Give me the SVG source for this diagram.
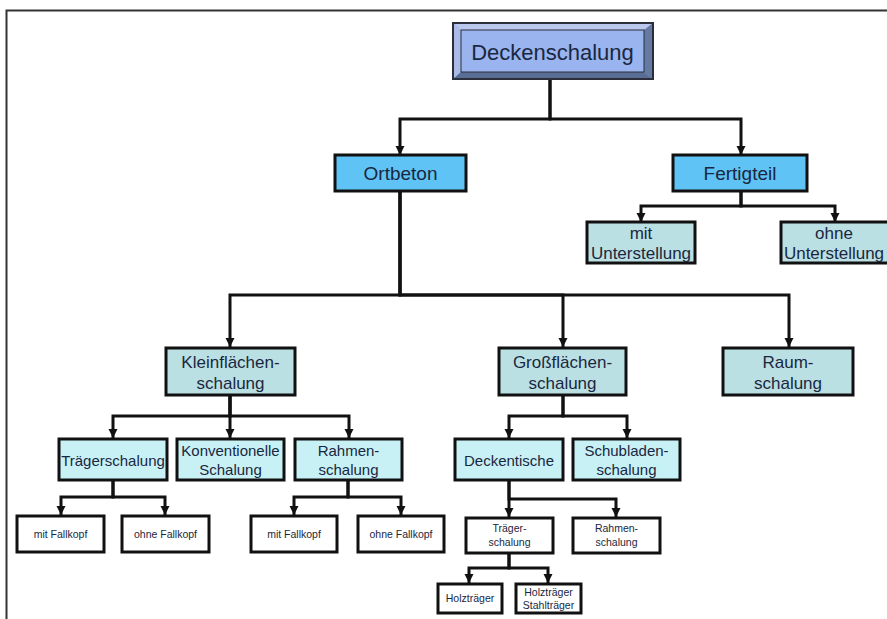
<svg xmlns="http://www.w3.org/2000/svg" width="887" height="619" viewBox="0 0 887 619">
  <style>
    text { font-family: "Liberation Sans", Arial, sans-serif; fill: #1a2740; text-anchor: middle; }
    .blue { fill: #60c3f6; stroke: #111; stroke-width: 3; }
    .teal { fill: #bbe0e3; stroke: #111; stroke-width: 3; }
    .cyan { fill: #c8f1f6; stroke: #111; stroke-width: 3; }
    .white { fill: #ffffff; stroke: #111; stroke-width: 3; }
    .conn { fill: none; stroke: #111; stroke-width: 3; }
    .t19 { font-size: 19px; }
    .t17 { font-size: 17px; }
    .t15 { font-size: 15px; }
    .t10 { font-size: 10.5px; }
  </style>
  <defs>
    <marker id="arrow" markerUnits="userSpaceOnUse" markerWidth="10" markerHeight="10" refX="9" refY="5" orient="auto">
      <path d="M0,0.5 L9,5 L0,9.5 Z" fill="#111"/>
    </marker>
  </defs>

  <rect width="887" height="619" fill="#ffffff"/>
  <!-- page frame -->
  <path d="M6.5,619 V10.5 H887" fill="none" stroke="#333" stroke-width="2"/>

  <g id="connectors" class="conn" marker-end="url(#arrow)">
    <path d="M550,80 V119 H400 V155"/>
    <path d="M550,80 V119 H741 V155"/>
    <path d="M741,191 V206 H641 V222"/>
    <path d="M741,191 V206 H835 V222"/>
    <path d="M400,191 V295 H230 V347"/>
    <path d="M400,191 V295 H563 V347"/>
    <path d="M400,191 V295 H789 V347"/>
    <path d="M230,395 V416 H113 V438"/>
    <path d="M230,395 V416 H230 V438"/>
    <path d="M230,395 V416 H349 V438"/>
    <path d="M563,395 V416 H509 V438"/>
    <path d="M563,395 V416 H627 V438"/>
    <path d="M113,480 V497 H61 V515"/>
    <path d="M113,480 V497 H165 V515"/>
    <path d="M348,480 V497 H294 V515"/>
    <path d="M348,480 V497 H401 V515"/>
    <path d="M509,481 V499 H509 V517"/>
    <path d="M509,481 V499 H616 V517"/>
    <path d="M509,553 V568 H469 V583"/>
    <path d="M509,553 V568 H548 V583"/>
  </g>

  <!-- bevelled root node -->
  <g id="deckenschalung">
    <rect x="453" y="23" width="200" height="56" fill="#99b4ee"/>
    <polygon points="453,23 653,23 644,30 461,30" fill="#b9c8ec"/>
    <polygon points="453,23 461,30 461,72 453,79" fill="#a9bbe6"/>
    <polygon points="653,23 653,79 644,72 644,30" fill="#657aa3"/>
    <polygon points="453,79 461,72 644,72 653,79" fill="#5a6d94"/>
    <rect x="461" y="30" width="183" height="42" fill="#99b4ee" stroke="#2a2f3a" stroke-width="1"/>
    <rect x="453" y="23" width="200" height="56" fill="none" stroke="#2a2f3a" stroke-width="2"/>
    <text x="552.5" y="59.5" style="font-size:22px">Deckenschalung</text>
  </g>

  <g id="ortbeton">
    <rect class="blue" x="335" y="155" width="131" height="36"/>
    <text class="t19" x="400.5" y="180">Ortbeton</text>
  </g>
  <g id="fertigteil">
    <rect class="blue" x="673" y="155" width="134" height="36"/>
    <text class="t19" x="740" y="180">Fertigteil</text>
  </g>

  <g id="mit-unterstellung">
    <rect class="teal" x="587" y="222" width="108" height="41"/>
    <text class="t17" x="641" y="239">mit</text>
    <text class="t17" x="641" y="259">Unterstellung</text>
  </g>
  <g id="ohne-unterstellung">
    <rect class="teal" x="781" y="222" width="108" height="41"/>
    <text class="t17" x="834" y="239">ohne</text>
    <text class="t17" x="834" y="259">Unterstellung</text>
  </g>

  <g id="kleinflaechenschalung">
    <rect class="teal" x="166" y="348" width="129" height="47"/>
    <text class="t17" x="230.5" y="368">Kleinflächen-</text>
    <text class="t17" x="230.5" y="389">schalung</text>
  </g>
  <g id="grossflaechenschalung">
    <rect class="teal" x="499" y="348" width="127" height="47"/>
    <text class="t17" x="562.5" y="368">Großflächen-</text>
    <text class="t17" x="562.5" y="389">schalung</text>
  </g>
  <g id="raumschalung">
    <rect class="teal" x="723" y="348" width="130" height="47"/>
    <text class="t17" x="788" y="368">Raum-</text>
    <text class="t17" x="788" y="389">schalung</text>
  </g>

  <g id="traegerschalung">
    <rect class="cyan" x="59" y="439" width="108" height="41"/>
    <text class="t15" x="113" y="466">Trägerschalung</text>
  </g>
  <g id="konventionelle-schalung">
    <rect class="cyan" x="177" y="439" width="107" height="41"/>
    <text class="t15" x="230.5" y="456">Konventionelle</text>
    <text class="t15" x="230.5" y="475">Schalung</text>
  </g>
  <g id="rahmenschalung">
    <rect class="cyan" x="295" y="439" width="107" height="41"/>
    <text class="t15" x="348.5" y="456">Rahmen-</text>
    <text class="t15" x="348.5" y="475">schalung</text>
  </g>
  <g id="deckentische">
    <rect class="cyan" x="455" y="439" width="108" height="41"/>
    <text class="t15" x="509" y="466">Deckentische</text>
  </g>
  <g id="schubladenschalung">
    <rect class="cyan" x="573" y="439" width="107" height="41"/>
    <text class="t15" x="626.5" y="456">Schubladen-</text>
    <text class="t15" x="626.5" y="475">schalung</text>
  </g>

  <g id="traeger-mit-fallkopf">
    <rect class="white" x="17" y="516" width="87" height="36"/>
    <text class="t10" x="60.5" y="538">mit Fallkopf</text>
  </g>
  <g id="traeger-ohne-fallkopf">
    <rect class="white" x="122" y="516" width="87" height="36"/>
    <text class="t10" x="165.5" y="538">ohne Fallkopf</text>
  </g>
  <g id="rahmen-mit-fallkopf">
    <rect class="white" x="251" y="516" width="86" height="36"/>
    <text class="t10" x="294" y="538">mit Fallkopf</text>
  </g>
  <g id="rahmen-ohne-fallkopf">
    <rect class="white" x="358" y="516" width="86" height="36"/>
    <text class="t10" x="401" y="538">ohne Fallkopf</text>
  </g>

  <g id="tisch-traegerschalung">
    <rect class="white" x="466" y="518" width="87" height="35"/>
    <text class="t10" x="509.5" y="532">Träger-</text>
    <text class="t10" x="509.5" y="546">schalung</text>
  </g>
  <g id="tisch-rahmenschalung">
    <rect class="white" x="573" y="518" width="87" height="35"/>
    <text class="t10" x="616.5" y="532">Rahmen-</text>
    <text class="t10" x="616.5" y="546">schalung</text>
  </g>

  <g id="holztraeger">
    <rect class="white" x="438" y="584" width="64" height="29"/>
    <text class="t10" x="470" y="602">Holzträger</text>
  </g>
  <g id="holz-stahltraeger">
    <rect class="white" x="516" y="584" width="65" height="29"/>
    <text class="t10" x="548.5" y="596">Holzträger</text>
    <text class="t10" x="548.5" y="609">Stahlträger</text>
  </g>
</svg>
